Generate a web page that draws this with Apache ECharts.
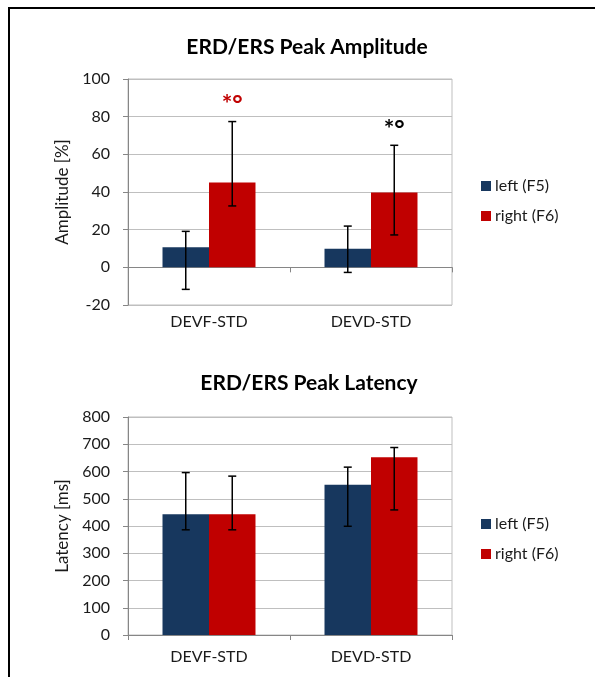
<!DOCTYPE html>
<html>
<head>
<meta charset="utf-8">
<script src="https://cdn.jsdelivr.net/npm/echarts@6/dist/echarts.min.js"></script>
<style>
  html, body { margin: 0; padding: 0; background: #fff; }
  #chart { width: 595px; height: 677px; }
</style>
</head>
<body>
<div id="chart"></div>
<script>
// data
var categories = ["DEVF-STD", "DEVD-STD"];
var seriesNames = ["left (F5)", "right (F6)"];

var ampLeft = [10.6, 9.9];
var ampLeftHi = [19.1, 21.9];
var ampLeftLo = [-11.7, -2.7];
var ampRight = [45.0, 39.8];
var ampRightHi = [77.4, 64.8];
var ampRightLo = [32.6, 17.2];

var latLeft = [443, 551];
var latLeftHi = [596, 616];
var latLeftLo = [386, 399];
var latRight = [443, 652];
var latRightHi = [583, 688];
var latRightLo = [386, 459];

// significance marks above the right bars of the amplitude chart
var markText = ["*°", "*°"];
var markValue = [86, 73];
var markColor = ["#C00000", "#000000"];

var FONT = "Lato";
var BLUE = "#17375E";
var RED = "#C00000";
var BAR_FRAC = 0.574; // share of a category taken by both bars

var chart = echarts.init(document.getElementById("chart"));

function errorBars(gridIdx, hi, lo, side) {
  return {
    type: "custom",
    xAxisIndex: gridIdx,
    yAxisIndex: gridIdx,
    silent: true,
    z: 5,
    encode: { x: 0, y: [1, 2] },
    data: categories.map(function (c, i) { return [i, lo[i], hi[i]]; }),
    renderItem: function (params, api) {
      var idx = api.value(0);
      var band = api.size([1, 0])[0];
      var off = side * band * BAR_FRAC / 4;
      var pLo = api.coord([idx, api.value(1)]);
      var pHi = api.coord([idx, api.value(2)]);
      var x = pLo[0] + off;
      var cap = 4;
      var style = { stroke: "#000", lineWidth: 1.5 };
      return {
        type: "group",
        children: [
          { type: "line", shape: { x1: x, y1: pLo[1], x2: x, y2: pHi[1] }, style: style },
          { type: "line", shape: { x1: x - cap, y1: pHi[1], x2: x + cap, y2: pHi[1] }, style: style },
          { type: "line", shape: { x1: x - cap, y1: pLo[1], x2: x + cap, y2: pLo[1] }, style: style }
        ]
      };
    }
  };
}

function sigMarks() {
  return {
    type: "custom",
    xAxisIndex: 0,
    yAxisIndex: 0,
    silent: true,
    z: 6,
    encode: { x: 0, y: 1 },
    data: categories.map(function (c, i) { return [i, markValue[i]]; }),
    renderItem: function (params, api) {
      var idx = api.value(0);
      var band = api.size([1, 0])[0];
      var p = api.coord([idx, api.value(1)]);
      return {
        type: "text",
        x: p[0] + band * BAR_FRAC / 4,
        y: p[1],
        style: {
          text: markText[params.dataIndex],
          fill: markColor[params.dataIndex],
          font: "bold 25px " + FONT,
          align: "center",
          verticalAlign: "middle"
        }
      };
    }
  };
}

function xAxisOf(gridIdx, margin) {
  return {
    type: "category",
    gridIndex: gridIdx,
    data: categories,
    axisLine: { onZero: true, lineStyle: { color: "#868686", width: 1 } },
    axisTick: { show: true, length: 5, lineStyle: { color: "#868686" } },
    axisLabel: { margin: margin, color: "#1a1a1a", fontFamily: FONT, fontSize: 16 },
    splitLine: { show: false }
  };
}

function yAxisOf(gridIdx, name, min, max, interval) {
  return {
    type: "value",
    gridIndex: gridIdx,
    min: min,
    max: max,
    interval: interval,
    name: name,
    nameLocation: "middle",
    nameGap: 40,
    nameTextStyle: { color: "#1a1a1a", fontFamily: FONT, fontSize: 17 },
    axisLine: { show: true, lineStyle: { color: "#868686" } },
    axisTick: { show: true, length: 5, lineStyle: { color: "#868686" } },
    axisLabel: { margin: 18, color: "#1a1a1a", fontFamily: FONT, fontSize: 16 },
    splitLine: { show: true, lineStyle: { color: "#BFBFBF", width: 1 } }
  };
}

function legendOf(top) {
  return {
    data: seriesNames,
    orient: "vertical",
    left: 476,
    top: top,
    itemWidth: 10,
    itemHeight: 10,
    itemGap: 14,
    icon: "rect",
    textStyle: { color: "#1a1a1a", fontFamily: FONT, fontSize: 16, padding: [0, 0, 0, -1] },
    selectedMode: false
  };
}

function bar(gridIdx, name, values, color) {
  return {
    type: "bar",
    name: name,
    xAxisIndex: gridIdx,
    yAxisIndex: gridIdx,
    data: values,
    barGap: "0%",
    barCategoryGap: "42.6%",
    itemStyle: { color: color },
    silent: true,
    z: 2
  };
}

chart.setOption({
  animation: false,
  textStyle: { fontFamily: FONT },
  title: [
    { text: "ERD/ERS Peak Amplitude", left: 302, textAlign: "center", top: 32,
      textStyle: { fontFamily: FONT, fontSize: 21, fontWeight: "bold", color: "#000" } },
    { text: "ERD/ERS Peak Latency", left: 304, textAlign: "center", top: 368,
      textStyle: { fontFamily: FONT, fontSize: 21, fontWeight: "bold", color: "#000" } }
  ],
  legend: [legendOf(173), legendOf(511)],
  grid: [
    { left: 128, width: 324, top: 79, height: 226, show: true, borderColor: "#BFBFBF", borderWidth: 1 },
    { left: 128, width: 324, top: 417, height: 218, show: true, borderColor: "#BFBFBF", borderWidth: 1 }
  ],
  xAxis: [xAxisOf(0, 9), xAxisOf(1, 14)],
  yAxis: [
    yAxisOf(0, "Amplitude [%]", -20, 100, 20),
    yAxisOf(1, "Latency [ms]", 0, 800, 100)
  ],
  graphic: [
    { type: "line", shape: { x1: 8, y1: 8, x2: 595, y2: 8 }, style: { stroke: "#000", lineWidth: 2 } },
    { type: "line", shape: { x1: 9, y1: 7, x2: 9, y2: 677 }, style: { stroke: "#000", lineWidth: 2 } }
  ],
  series: [
    bar(0, seriesNames[0], ampLeft, BLUE),
    bar(0, seriesNames[1], ampRight, RED),
    bar(1, seriesNames[0], latLeft, BLUE),
    bar(1, seriesNames[1], latRight, RED),
    errorBars(0, ampLeftHi, ampLeftLo, -1),
    errorBars(0, ampRightHi, ampRightLo, 1),
    errorBars(1, latLeftHi, latLeftLo, -1),
    errorBars(1, latRightHi, latRightLo, 1),
    sigMarks()
  ]
});
</script>
</body>
</html>
